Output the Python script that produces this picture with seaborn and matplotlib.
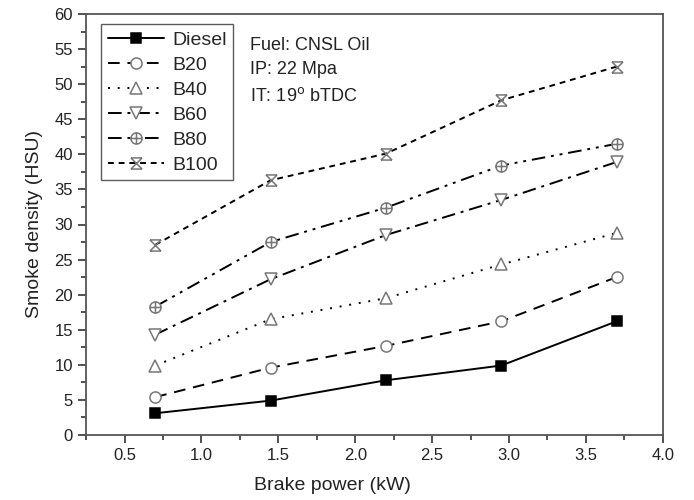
import numpy as np
import pandas as pd
import matplotlib
matplotlib.use("Agg")
import matplotlib.pyplot as plt
from matplotlib.path import Path
from matplotlib.ticker import MultipleLocator
import seaborn as sns

brake_power = [0.7, 1.45, 2.2, 2.95, 3.7]
diesel = [3.1, 4.9, 7.8, 9.9, 16.2]
b20 = [5.4, 9.6, 12.7, 16.2, 22.5]
b40 = [9.9, 16.5, 19.5, 24.3, 28.8]
b60 = [14.3, 22.2, 28.5, 33.5, 38.9]
b80 = [18.3, 27.5, 32.4, 38.4, 41.5]
b100 = [27.1, 36.3, 40.1, 47.7, 52.5]
series_names = ["Diesel", "B20", "B40", "B60", "B80", "B100"]
series_values = [diesel, b20, b40, b60, b80, b100]
x_tick_labels = ["0.5", "1.0", "1.5", "2.0", "2.5", "3.0", "3.5", "4.0"]

rows = []
for name, vals in zip(series_names, series_values):
    for x, y in zip(brake_power, vals):
        rows.append({"Brake power": x, "Smoke": y, "Fuel": name})
df = pd.DataFrame(rows)

sns.set_style("white")
plt.rcParams['font.family'] = ['Liberation Sans', 'DejaVu Sans']

# custom markers
circ = Path.unit_circle()
plus = Path([(-1, 0), (1, 0), (0, -1), (0, 1)],
            [Path.MOVETO, Path.LINETO, Path.MOVETO, Path.LINETO])
circle_plus = Path.make_compound_path(circ, plus)
xbox = Path([(-1, -1), (1, 1), (-1, 1), (1, -1),
             (-1, 1), (1, 1), (-1, -1), (1, -1)],
            [Path.MOVETO, Path.LINETO, Path.MOVETO, Path.LINETO,
             Path.MOVETO, Path.LINETO, Path.MOVETO, Path.LINETO])

styles = {
    "Diesel": dict(marker="s", ls="-", mfc="black", mec="black", ms=7),
    "B20": dict(marker="o", ls=(0, (6, 4)), mfc="white", mec="#777777", ms=8),
    "B40": dict(marker="^", ls=(0, (1, 4)), mfc="white", mec="#777777", ms=9),
    "B60": dict(marker="v", ls=(0, (7, 3, 1.5, 3)), mfc="white", mec="#777777", ms=9),
    "B80": dict(marker=circle_plus, ls=(0, (7, 3, 1.5, 3, 1.5, 3)), mfc="white", mec="#777777", ms=8),
    "B100": dict(marker=xbox, ls=(0, (3, 2.5)), mfc="none", mec="#777777", ms=8),
}

fig = plt.figure(figsize=(6.94, 5.0), dpi=100)
ax = fig.add_axes([0.124, 0.13, 0.831, 0.842])

for name in series_names:
    st = styles[name]
    sub = df[df["Fuel"] == name]
    sns.lineplot(data=sub, x="Brake power", y="Smoke", ax=ax, color="black",
                 linewidth=1.4, linestyle=st["ls"], marker=st["marker"],
                 markerfacecolor=st["mfc"], markeredgecolor=st["mec"],
                 markersize=st["ms"], markeredgewidth=1.1, label=name,
                 errorbar=None)

ax.set_xlim(0.25, 4.0)
ax.set_ylim(0, 60)
ax.xaxis.set_minor_locator(MultipleLocator(0.25))
ax.yaxis.set_major_locator(MultipleLocator(5))
ax.yaxis.set_minor_locator(MultipleLocator(2.5))
ax.set_xticks([0.5, 1.0, 1.5, 2.0, 2.5, 3.0, 3.5, 4.0])
ax.set_xticklabels(x_tick_labels)
ax.tick_params(which="major", direction="out", length=6, width=1.2,
               color="#333333", labelsize=12, labelcolor="#222222",
               bottom=True, left=True, top=False, right=False)
ax.tick_params(which="minor", direction="out", length=3.5, width=1.2,
               color="#333333", bottom=True, left=True, top=False, right=False)
for sp in ax.spines.values():
    sp.set_color("#555555")
    sp.set_linewidth(1.3)

ax.set_xlabel("Brake power (kW)", fontsize=14, color="#222222")
ax.xaxis.set_label_coords(0.428, -0.1)
ax.set_ylabel("Smoke density (HSU)", fontsize=14, color="#222222", labelpad=8)

leg = ax.legend(loc="upper left", bbox_to_anchor=(0.026, 0.976), fontsize=14,
                frameon=True, fancybox=False, edgecolor="#333333",
                handlelength=2.9, handletextpad=0.4, labelspacing=0.38,
                borderpad=0.35, borderaxespad=0.0)
leg.get_frame().set_linewidth(1.0)

ax.text(0.284, 0.926, "Fuel: CNSL Oil", transform=ax.transAxes, fontsize=13,
        color="#222222", va="center")
ax.text(0.284, 0.869, "IP: 22 Mpa", transform=ax.transAxes, fontsize=13,
        color="#222222", va="center")
ax.text(0.284, 0.805, "IT: 19$^{\\mathrm{o}}$ bTDC", transform=ax.transAxes,
        fontsize=13, color="#222222", va="center")

fig.savefig("out.png", dpi=100)
